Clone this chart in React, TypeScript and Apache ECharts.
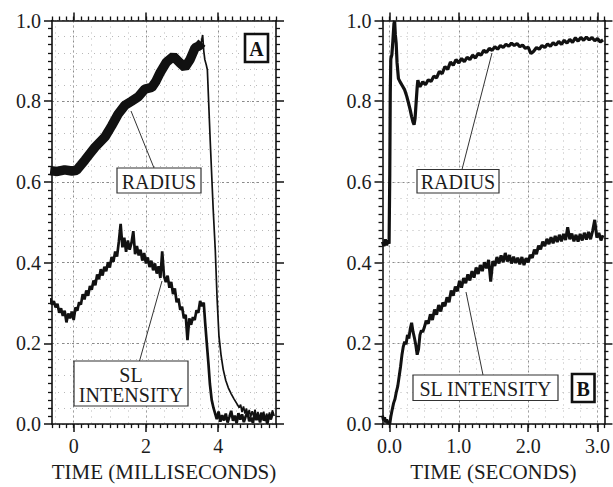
import React, { useEffect, useRef } from "react";
import * as echarts from "echarts";

const FONT = "'Liberation Serif', 'Times New Roman', serif";
const INK = "#111111";
const TXT = "#1c1c1c";

// ---------- Panel A (milliseconds) ----------
const xRangeA = [-0.6, 5.6];
const xMajorA = [0, 2, 4];
const xGridA = [-0.5, 0, 0.5, 1, 1.5, 2, 2.5, 3, 3.5, 4, 4.5, 5, 5.5];

// RADIUS (thick band, centre line)
const radiusA_band = [
  [-0.65, 0.628], [-0.45, 0.626], [-0.25, 0.630], [-0.05, 0.627], [0.08, 0.629],
  [0.2, 0.642], [0.31, 0.654], [0.45, 0.670], [0.59, 0.686], [0.73, 0.699],
  [0.87, 0.712], [1.05, 0.739], [1.23, 0.768], [1.42, 0.790], [1.6, 0.800],
  [1.79, 0.811], [1.97, 0.830], [2.16, 0.834], [2.28, 0.850], [2.4, 0.872],
  [2.57, 0.897], [2.76, 0.911], [2.94, 0.895], [3.08, 0.884], [3.22, 0.903],
  [3.36, 0.932], [3.48, 0.938], [3.55, 0.945],
];
// RADIUS fall and tail (thin)
const radiusA_fall = [
  [3.52, 0.94], [3.57, 0.964], [3.60, 0.925], [3.63, 0.903], [3.67, 0.89], [3.70, 0.878],
  [3.78, 0.70], [3.86, 0.535], [3.92, 0.43], [3.97, 0.31], [4.02, 0.22], [4.08, 0.17],
  [4.14, 0.135], [4.21, 0.108], [4.28, 0.09], [4.36, 0.075], [4.44, 0.062], [4.52, 0.05],
  [4.58, 0.041], [4.62, 0.048], [4.66, 0.03], [4.70, 0.044], [4.74, 0.026], [4.78, 0.039],
  [4.82, 0.022], [4.86, 0.035], [4.90, 0.018], [4.94, 0.032], [4.98, 0.02], [5.02, 0.036],
  [5.06, 0.015], [5.10, 0.03], [5.14, 0.012], [5.18, 0.028], [5.22, 0.016], [5.26, 0.031],
  [5.30, 0.01], [5.34, 0.026], [5.38, 0.014], [5.42, 0.029], [5.46, 0.011], [5.50, 0.034],
  [5.55, 0.02],
];
// SL INTENSITY, sampled every 0.05 ms from -0.65 ms
const slA_t0 = -0.65;
const slA_dt = 0.05;
const slA_vals = [
  0.312, 0.296, 0.305, 0.289, 0.298, 0.276, 0.287, 0.268, 0.281, 0.252,
  0.274, 0.262, 0.279, 0.258, 0.289, 0.281, 0.302, 0.296, 0.322, 0.309,
  0.331, 0.318, 0.342, 0.333, 0.356, 0.344, 0.371, 0.359, 0.384, 0.368,
  0.390, 0.379, 0.401, 0.388, 0.414, 0.402, 0.428, 0.415, 0.452, 0.496,
  0.438, 0.462, 0.427, 0.455, 0.432, 0.449, 0.478, 0.421, 0.441, 0.418,
  0.432, 0.405, 0.424, 0.398, 0.413, 0.389, 0.405, 0.381, 0.398, 0.373,
  0.391, 0.362, 0.428, 0.367, 0.352, 0.368, 0.338, 0.352, 0.322, 0.336,
  0.302, 0.311, 0.283, 0.291, 0.262, 0.271, 0.208, 0.262, 0.246, 0.265,
  0.258, 0.282, 0.276, 0.305, 0.292, 0.301,
];
const slA_drop = [
  [3.64, 0.25], [3.68, 0.205], [3.73, 0.15], [3.77, 0.10], [3.82, 0.06], [3.87, 0.04],
];
const slA_tail_t0 = 3.91;
const slA_tail_dt = 0.05;
const slA_tail = [
  0.028, 0.012, 0.031, 0.006, 0.022, 0.009, 0.026, 0.004, 0.018, 0.033,
  0.008, 0.021, 0.002, 0.027, 0.011, 0.024, 0.005, 0.019, 0.030, 0.007,
  0.016, 0.003, 0.025, 0.010, 0.021, 0.004, 0.028, 0.009, 0.017, 0.001,
  0.023, 0.012, 0.030,
];

// ---------- Panel B (seconds) ----------
const xRangeB = [-0.1, 3.1];
const xMajorB = [0, 1, 2, 3];
const xGridB = [0, 0.25, 0.5, 0.75, 1, 1.25, 1.5, 1.75, 2, 2.25, 2.5, 2.75, 3];

const radiusB_start = [
  [-0.1, 0.452], [-0.08, 0.441], [-0.06, 0.458], [-0.04, 0.443], [-0.02, 0.455],
  [-0.005, 0.447], [0.005, 0.62], [0.012, 0.82], [0.02, 0.905], [0.035, 0.915],
  [0.05, 0.95], [0.065, 0.992], [0.075, 0.998], [0.085, 0.965], [0.097, 0.944],
  [0.11, 0.895], [0.13, 0.856], [0.16, 0.846], [0.18, 0.84], [0.22, 0.828],
  [0.25, 0.812], [0.28, 0.792], [0.30, 0.778], [0.32, 0.762], [0.34, 0.748],
  [0.355, 0.742], [0.37, 0.758], [0.385, 0.797], [0.40, 0.835], [0.41, 0.852],
  [0.425, 0.842],
];
const radiusB_t0 = 0.44;
const radiusB_dt = 0.04;
const radiusB_vals = [
  0.836, 0.848, 0.841, 0.853, 0.849, 0.862, 0.858, 0.874, 0.868, 0.886,
  0.879, 0.897, 0.889, 0.903, 0.895, 0.906, 0.898, 0.909, 0.903, 0.914,
  0.907, 0.919, 0.914, 0.926, 0.921, 0.931, 0.926, 0.935, 0.929, 0.938,
  0.933, 0.941, 0.936, 0.944, 0.938, 0.943, 0.935, 0.939, 0.931, 0.934,
  0.918, 0.924, 0.933, 0.929, 0.938, 0.933, 0.942, 0.936, 0.945, 0.939,
  0.948, 0.941, 0.951, 0.944, 0.953, 0.946, 0.957, 0.949, 0.958, 0.951,
  0.959, 0.952, 0.958, 0.950, 0.955, 0.947, 0.952,
];
const slB_start = [
  [-0.1, 0.021], [-0.085, 0.009], [-0.07, 0.017], [-0.055, 0.004], [-0.04, 0.012],
  [-0.025, 0.002], [-0.01, 0.008], [0.005, 0.0], [0.02, 0.018], [0.04, 0.036],
  [0.06, 0.052], [0.08, 0.062], [0.10, 0.08], [0.12, 0.094], [0.14, 0.118],
  [0.16, 0.142], [0.18, 0.171], [0.20, 0.192], [0.22, 0.204], [0.24, 0.198],
  [0.26, 0.221], [0.28, 0.212], [0.30, 0.236], [0.32, 0.251], [0.34, 0.229],
  [0.36, 0.214], [0.38, 0.196], [0.40, 0.172], [0.42, 0.186], [0.44, 0.221],
  [0.46, 0.232], [0.48, 0.228],
];
const slB_t0 = 0.5;
const slB_dt = 0.03;
const slB_vals = [
  0.238, 0.256, 0.249, 0.272, 0.258, 0.284, 0.271, 0.295, 0.279, 0.301,
  0.292, 0.314, 0.302, 0.331, 0.318, 0.341, 0.329, 0.355, 0.338, 0.362,
  0.349, 0.371, 0.356, 0.379, 0.363, 0.388, 0.372, 0.394, 0.379, 0.401,
  0.386, 0.407, 0.353, 0.404, 0.392, 0.414, 0.398, 0.418, 0.401, 0.424,
  0.403, 0.419, 0.398, 0.415, 0.399, 0.412, 0.396, 0.414, 0.394, 0.411,
  0.401, 0.419, 0.412, 0.432, 0.421, 0.442, 0.433, 0.452, 0.441, 0.459,
  0.446, 0.463, 0.448, 0.466, 0.451, 0.469, 0.453, 0.471, 0.456, 0.488,
  0.458, 0.472, 0.453, 0.469, 0.452, 0.471, 0.455, 0.474, 0.457, 0.476,
  0.458, 0.479, 0.506, 0.462, 0.474, 0.455, 0.468,
];

function sampled(t0: number, dt: number, vals: number[]) {
  return vals.map((v, i) => [Math.round((t0 + i * dt) * 1000) / 1000, v]);
}

const MAJOR_GRID = { color: "#8a8a8a", width: 1, type: [2, 3] };
const MINOR_GRID = { color: "#b8b8b8", width: 1, type: [1, 5] };

function xAxesFor(g: number, range: number[], minorInt: number, major: number[], gridVals: number[], name: string, fmt: (v: number) => string) {
  const base = { gridIndex: g, type: "value", min: range[0], max: range[1] };
  const line = { show: true, onZero: false, lineStyle: { color: INK, width: 1.6 } };
  return [
    {
      ...base, interval: minorInt, position: "bottom", axisLine: line,
      axisTick: { show: true, inside: false, length: 4, lineStyle: { color: INK, width: 1.3 } },
      axisLabel: { show: false }, splitLine: { show: false },
    },
    {
      ...base, interval: minorInt, position: "top", axisLine: line,
      axisTick: { show: true, inside: false, length: 4, lineStyle: { color: INK, width: 1.3 } },
      axisLabel: { show: false }, splitLine: { show: false },
    },
    {
      ...base, position: "bottom", axisLine: { show: false, onZero: false },
      axisTick: { show: true, inside: false, length: 8, customValues: major, lineStyle: { color: INK, width: 1.5 } },
      axisLabel: { show: true, customValues: major, formatter: fmt, fontSize: 20, fontFamily: FONT, color: TXT, margin: 12 },
      splitLine: { show: true, lineStyle: MAJOR_GRID },
      name, nameLocation: "middle", nameGap: 35,
      nameTextStyle: { fontSize: 21, fontFamily: FONT, color: TXT },
    },
    {
      ...base, position: "top", axisLine: { show: false, onZero: false },
      axisTick: { show: true, inside: false, length: 8, customValues: major, lineStyle: { color: INK, width: 1.5 } },
      axisLabel: { show: false }, splitLine: { show: false },
    },
    {
      ...base, position: "bottom", axisLine: { show: false, onZero: false },
      axisTick: { show: false, customValues: gridVals },
      axisLabel: { show: false },
      splitLine: { show: true, lineStyle: MINOR_GRID },
    },
  ];
}

function yAxesFor(g: number) {
  const base = { gridIndex: g, type: "value", min: 0, max: 1 };
  const line = { show: true, onZero: false, lineStyle: { color: INK, width: 1.6 } };
  const tick = { show: true, inside: false, length: 8, lineStyle: { color: INK, width: 1.5 } };
  const minor = { show: true, splitNumber: 10, length: 4, lineStyle: { color: INK, width: 1.3 } };
  return [
    {
      ...base, interval: 0.2, position: "left", axisLine: line, axisTick: tick, minorTick: minor,
      axisLabel: { show: true, formatter: (v: number) => v.toFixed(1), fontSize: 20, fontFamily: FONT, color: TXT, margin: 11 },
      splitLine: { show: true, lineStyle: MAJOR_GRID },
    },
    {
      ...base, interval: 0.2, position: "right", axisLine: line, axisTick: tick, minorTick: minor,
      axisLabel: { show: false }, splitLine: { show: false },
    },
    {
      ...base, interval: 0.04, position: "right", axisLine: { show: false, onZero: false },
      axisTick: { show: false }, axisLabel: { show: false },
      splitLine: { show: true, lineStyle: MINOR_GRID },
    },
  ];
}

function boxLabel(x: number, y: number, w: number, h: number, text: string, lh = 20) {
  return [
    { type: "rect", z: 100, shape: { x, y, width: w, height: h }, style: { fill: "#fff", stroke: "#333", lineWidth: 1.2 } },
    {
      type: "text", z: 101, x: x + w / 2, y: y + h / 2 + 1,
      style: { text, fill: TXT, font: `20px ${FONT}`, align: "center", verticalAlign: "middle", lineHeight: lh },
    },
  ];
}
function letterBox(x: number, y: number, w: number, h: number, text: string) {
  return [
    { type: "rect", z: 100, shape: { x, y, width: w, height: h }, style: { fill: "#fff", stroke: "#111", lineWidth: 2.6 } },
    {
      type: "text", z: 101, x: x + w / 2, y: y + h / 2 + 1,
      style: { text, fill: "#111", font: `bold 20px ${FONT}`, align: "center", verticalAlign: "middle" },
    },
  ];
}
function leader(x1: number, y1: number, x2: number, y2: number) {
  return { type: "line", z: 99, shape: { x1, y1, x2, y2 }, style: { stroke: "#333", lineWidth: 1 } };
}

export default function App() {
  const ref = useRef<HTMLDivElement>(null);
  useEffect(() => {
    if (!ref.current) return;
    const chart = echarts.init(ref.current, undefined, { renderer: "svg" });
    const xA = xAxesFor(0, xRangeA, 0.2, xMajorA, xGridA, "TIME (MILLISECONDS)", (v: number) => String(Math.round(v)));
    const xB = xAxesFor(1, xRangeB, 0.1, xMajorB, xGridB, "TIME (SECONDS)", (v: number) => v.toFixed(1));
    const yA = yAxesFor(0);
    const yB = yAxesFor(1);
    const lineSeries = (data: number[][], xi: number, yi: number, width: number) => ({
      type: "line", data, xAxisIndex: xi, yAxisIndex: yi, showSymbol: false, symbol: "none",
      lineStyle: { color: INK, width }, silent: true,
    });
    const slA = [
      ...sampled(slA_t0, slA_dt, slA_vals),
      ...slA_drop,
      ...sampled(slA_tail_t0, slA_tail_dt, slA_tail),
    ];
    const radB = [...radiusB_start, ...sampled(radiusB_t0, radiusB_dt, radiusB_vals)];
    const slB = [...slB_start, ...sampled(slB_t0, slB_dt, slB_vals)];
    chart.setOption({
      animation: false,
      grid: [
        { left: 52, top: 20.5, width: 224, height: 407.5 },
        { left: 382.5, top: 20.5, width: 222, height: 407.5 },
      ],
      xAxis: [...xA, ...xB],
      yAxis: [...yA, ...yB],
      series: [
        lineSeries(radiusA_band, 0, 0, 9.5),
        lineSeries(radiusA_fall, 0, 0, 1.7),
        lineSeries(slA, 0, 0, 2.7),
        lineSeries(radB, 5, 3, 3.2),
        lineSeries(slB, 5, 3, 3),
      ],
      graphic: [
        leader(154, 168, 131, 111),
        leader(139.5, 361, 162, 281),
        leader(462, 169.5, 492, 53),
        leader(483, 375, 466, 292),
        ...boxLabel(117, 168, 84, 25, "RADIUS"),
        ...boxLabel(74, 361, 114, 45, "SL\nINTENSITY"),
        ...letterBox(245, 34, 23, 28, "A"),
        ...boxLabel(417, 169.5, 82, 23.5, "RADIUS"),
        ...boxLabel(413, 375, 145, 25.5, "SL INTENSITY"),
        ...letterBox(572, 374, 22.5, 28, "B"),
      ],
    });
    return () => chart.dispose();
  }, []);
  return (
    <div
      ref={ref}
      style={{ position: "fixed", left: 0, top: 0, width: 613, height: 487, background: "#fff" }}
    />
  );
}
